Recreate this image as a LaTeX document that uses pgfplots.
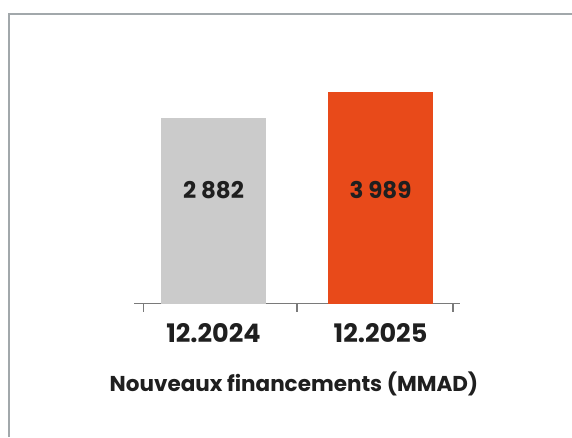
\documentclass[border=0pt]{standalone}
\usepackage{fontspec}
\setmainfont{Poppins}
\usepackage{pgfplots}
\pgfplotsset{compat=1.18}
\usepackage{pgfplotstable}
\definecolor{cFrame}{HTML}{A2A8AB}
\definecolor{cAxis}{HTML}{7A7A7A}
\definecolor{cGrey}{HTML}{CBCBCB}
\definecolor{cOrange}{HTML}{E84A1A}
\definecolor{cText}{HTML}{1F1F1F}

% values in MMAD; bars are drawn from a hidden baseline (offset) as in the original
\pgfplotstableread{
x v
0 2882
}\tblA
\pgfplotstableread{
x v
1 3989
}\tblB

\begin{document}
\begin{tikzpicture}
\useasboundingbox (0,0) rectangle (572pt,437pt);
\draw[cFrame, line width=2pt] (8.7pt,0) -- (8.7pt,423pt) -- (572pt,423pt);
\begin{axis}[
  anchor=south west, at={(134pt,133.5pt)},
  x=167pt, y=0.02349pt,
  xmin=-0.476, xmax=1.476, ymin=0, ymax=9500,
  axis y line=none, axis x line*=bottom,
  x axis line style={cAxis, line width=1.3pt, -},
  xtick={-0.418,0.5,1.434}, xticklabels={},
  major tick length=8pt, tick align=outside,
  tick style={cAxis, line width=1.3pt},
  extra x ticks={0,1}, extra x tick labels={12.2024,12.2025},
  extra x tick style={major tick length=0pt,
    tick label style={font=\fontsize{25.5}{30}\selectfont\bfseries, text=cText, yshift=-16pt}},
  xlabel={Nouveaux financements (MMAD)},
  xlabel style={font=\fontsize{21.5}{26}\selectfont\bfseries, text=cText, yshift=-15pt, xshift=-3pt},
  clip=false,
]
\addplot[ybar, bar width=105pt, fill=cGrey, draw=none] table[x=x, y expr=\thisrow{v}+5036] {\tblA};
\addplot[ybar, bar width=105pt, fill=cOrange, draw=none] table[x=x, y expr=\thisrow{v}+5036] {\tblB};
% value labels, set at one height inside the bars
\addplot[draw=none, mark=none, point meta=explicit symbolic,
  nodes near coords, nodes near coords align=center,
  nodes near coords style={font=\fontsize{23}{27}\selectfont\bfseries, text=cText}]
  coordinates {(0,4832)[2 882] (1,4832)[3 989]};
\end{axis}
\end{tikzpicture}
\end{document}
